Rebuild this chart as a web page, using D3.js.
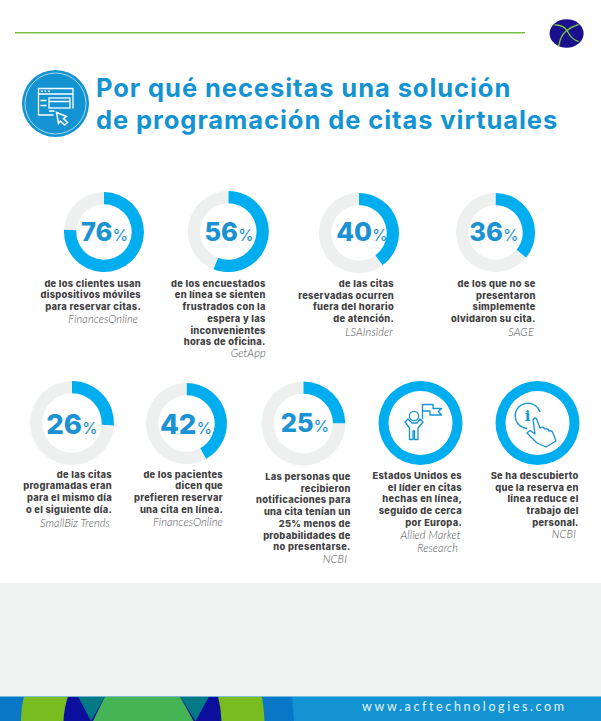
<!DOCTYPE html>
<html>
<head>
<meta charset="utf-8">
<script src="https://cdnjs.cloudflare.com/ajax/libs/d3/7.8.5/d3.min.js"></script>
<style>
html, body { margin: 0; padding: 0; background: #fff; }
svg { display: block; }
.caption { font-family: "Inter", sans-serif; font-weight: 800; font-size: 9.3px; fill: #414042; text-anchor: end; letter-spacing: 0.3px; }
.source { font-family: "Lato", sans-serif; font-style: italic; font-weight: 300; font-size: 11px; fill: #4d4e50; text-anchor: end; letter-spacing: 0.1px; }
.num { font-family: "Inter", sans-serif; font-weight: 800; fill: #1b92d1; text-anchor: middle; }
.pct { font-weight: 400; font-size: 16px; }
</style>
</head>
<body>
<div id="chart"></div>
<script>
const cards = ["a", "b", "c", "d", "e", "f", "g", "h", "i"];
const values = [76, 56, 40, 36, 26, 42, 25, 100, 100];
const valueLabels = ["76", "56", "40", "36", "26", "42", "25", null, null];
const captions = [
  ["de los clientes usan", "dispositivos móviles", "para reservar citas."],
  ["de los encuestados", "en línea se sienten", "frustrados con la", "espera y las", "inconvenientes", "horas de oficina."],
  ["de las citas", "reservadas ocurren", "fuera del horario", "de atención."],
  ["de los que no se", "presentaron", "simplemente", "olvidaron su cita."],
  ["de las citas", "programadas eran", "para el mismo día", "o el siguiente día."],
  ["de los pacientes", "dicen que", "prefieren reservar", "una cita en línea."],
  ["Las personas que", "recibieron", "notificaciones para", "una cita tenían un", "25% menos de", "probabilidades de", "no presentarse."],
  ["Estados Unidos es", "el líder en citas", "hechas en línea,", "seguido de cerca", "por Europa."],
  ["Se ha descubierto", "que la reserva en", "línea reduce el", "trabajo del", "personal."]
];
const sources = [
  ["FinancesOnline"], ["GetApp"], ["LSAInsider"], ["SAGE"], ["SmallBiz Trends"],
  ["FinancesOnline"], ["NCBI"], ["Allied Market", "Research"], ["NCBI"]
];
const titleLines = ["Por qué necesitas una solución", "de programación de citas virtuales"];
const footerUrl = "www.acftechnologies.com";

const width = 601, height = 721;

// layout, the grid is not regular in the original so ordinal scales it is
const cx = d3.scaleOrdinal().domain(cards).range([104, 228.3, 359, 495.5, 72, 186.5, 303.3, 420.5, 537.5]);
const cy = d3.scaleOrdinal().domain(cards).range([232, 231.5, 233, 232.5, 423, 423.5, 423.5, 423, 423]);
const outer = d3.scaleOrdinal().domain(cards).range([40, 40.5, 40, 39.5, 42, 40.5, 42, 42, 42]);
const labelX = d3.scaleOrdinal().domain(cards).range([104.5, 229, 362, 494, 72, 186, 305, 0, 0]);
const labelY = d3.scaleOrdinal().domain(cards).range([241, 241, 241, 241, 434, 434, 432, 0, 0]);
const labelSize = d3.scaleOrdinal().domain(cards).range([25.5, 25.5, 26, 25.5, 27.5, 27.5, 25.5, 0, 0]);
const textRight = d3.scaleOrdinal().domain(cards).range([141, 265.7, 394, 535.7, 112, 223, 350.7, 462, 578.7]);
const textTop = d3.scaleOrdinal().domain(cards).range([286.7, 286.7, 287, 287, 477.7, 477.7, 480, 479, 479]);
const sourceRight = d3.scaleOrdinal().domain(cards).range([138, 265.7, 393, 534, 110, 222.7, 347, 460.7, 576]);
const sourceTop = d3.scaleOrdinal().domain(cards).range([322.7, 356.7, 335.7, 335.7, 526.7, 525.7, 563, 539, 537.7]);
const lineH = 11.7;

const blue = "#1493d2", ringBlue = "#00aeef", track = "#eef0f0";

const svg = d3.select("#chart").append("svg").attr("width", width).attr("height", height);

svg.append("rect").attr("width", width).attr("height", height).attr("fill", "#fff");
svg.append("rect").attr("y", 583).attr("width", width).attr("height", 113).attr("fill", "#f1f2f2");

// header
svg.append("line").attr("x1", 15).attr("x2", 525).attr("y1", 32.8).attr("y2", 32.8).attr("stroke", "#7ac143").attr("stroke-width", 1.5);
const logo = svg.append("g").attr("transform", "translate(566.6,33.5)");
logo.append("ellipse").attr("rx", 17).attr("ry", 14.3).attr("fill", "#1a0f8c");
logo.append("path").attr("d", "M-12,-8.5 Q-3,-9 1,-2 Q5,6 12,8").attr("fill", "none").attr("stroke", "#7ac143").attr("stroke-width", 1.4);
logo.append("path").attr("d", "M-8,13 Q-6,2 -1,-2 Q5,-7 12,-9").attr("fill", "none").attr("stroke", "#7ac143").attr("stroke-width", 1.4);

const icon = svg.append("g").attr("transform", "translate(55.5,103.5)");
icon.append("circle").attr("r", 33.5).attr("fill", blue);
icon.append("circle").attr("r", 30.5).attr("fill", "none").attr("stroke", "#cfe9f6").attr("stroke-width", 0.8);
const ic = icon.append("g").attr("fill", "none").attr("stroke", "#fff").attr("stroke-width", 1.3);
ic.append("path").attr("d", "M-2,11.5 H-17 V-15 H17.5 V5");
ic.append("path").attr("d", "M-17,-9.5 H17.5");
ic.append("rect").attr("x", -6.5).attr("y", -5.5).attr("width", 21).attr("height", 10);
ic.append("path").attr("d", "M-6.5,-2 H14.5 M-15,-3 H-9 M-15,2 H-9 M-6.5,7.5 H-1");
ic.append("path").attr("d", "M1,9 L11,13 L8,15 L12,19 L9,21.5 L5,17.5 L3,20Z").attr("stroke-width", 1.5).attr("fill", blue);
icon.selectAll(".dot").data([-13.5, -10, -6.5]).enter().append("circle").attr("cx", d => d).attr("cy", -12.3).attr("r", 0.9).attr("fill", "#fff");

svg.selectAll(".title").data(titleLines).enter().append("text")
  .attr("class", "title").attr("x", 96).attr("y", (d, i) => 96.5 + i * 32)
  .attr("font-family", "Inter, sans-serif").attr("font-weight", 700).attr("font-size", 25.5)
  .attr("letter-spacing", 0.93).attr("fill", blue).text(d => d);

// donuts
const pie = d3.pie().sort(null);
const arc = d3.arc();

const card = svg.selectAll(".card").data(cards).enter().append("g").attr("class", "card");

card.each(function (id, i) {
  const g = d3.select(this);
  const R = outer(id);
  const ring = g.append("g").attr("transform", "translate(" + cx(id) + "," + cy(id) + ")");
  const thick = values[i] === 100 ? 10 : 12.3;
  ring.selectAll("path").data(pie([values[i], 100 - values[i]])).enter().append("path")
    .attr("d", d => arc({ innerRadius: R - thick, outerRadius: R, startAngle: d.startAngle, endAngle: d.endAngle }))
    .attr("fill", (d, k) => k === 0 ? ringBlue : track);

  if (valueLabels[i]) {
    const t = g.append("text").attr("class", "num").attr("x", labelX(id)).attr("y", labelY(id)).attr("font-size", labelSize(id));
    t.append("tspan").text(valueLabels[i]);
    t.append("tspan").attr("class", "pct").text("%");
  }

  g.selectAll(".caption").data(captions[i]).enter().append("text").attr("class", "caption")
    .attr("x", textRight(id)).attr("y", (d, k) => textTop(id) + k * lineH).text(d => d);
  g.selectAll(".source").data(sources[i]).enter().append("text").attr("class", "source")
    .attr("x", (d, k) => sourceRight(id) - k * 2.7).attr("y", (d, k) => sourceTop(id) + k * 12.5).text(d => d);
});

// flag man icon
const man = svg.append("g").attr("fill", "none").attr("stroke", blue).attr("stroke-width", 1.3).attr("stroke-linejoin", "round");
man.append("circle").attr("cx", 414).attr("cy", 416).attr("r", 4.6);
man.append("path").attr("d", "M405,422 L408,419 L412,423 H417 L420,419 L423,422 L418,428 V439.5 H414.5 V431 H413 V439.5 H409.5 V428 Z");
man.append("path").attr("d", "M422.5,419 V404.5 H433 V408.5 H441.5 L438.5,411.5 L441.5,415 H430 V411 H423");

// info hand icon
const hand = svg.append("g").attr("fill", "none").attr("stroke", blue).attr("stroke-width", 1.3).attr("stroke-linejoin", "round");
hand.append("path").attr("d", "M527,428.5 A12.7,12.7 0 1 1 540,412");
hand.append("path").attr("d", "M537,443 L527,433 L530,430.5 L535,434 L533,420 Q535,416 537,420 L540,428 Q543,426 545,429 Q548,428 549,431 Q552,430 553,433 L556,441 L546,447 Z").attr("fill", "#fff");
svg.append("text").attr("x", 527.5).attr("y", 421).attr("text-anchor", "middle").attr("font-family", "DejaVu Serif, serif").attr("font-weight", 700).attr("font-size", 15).attr("fill", blue).text("i");

// footer band
const foot = svg.append("g");
foot.append("rect").attr("y", 696).attr("width", width).attr("height", 25).attr("fill", blue);
foot.append("path").attr("d", "M0,696.5 H292 L294,721 H0Z").attr("fill", "#0a76c6");
foot.append("path").attr("d", "M24,696.5 H262 Q264,708 264.5,721 H21 Q21,708 24,696.5Z").attr("fill", "#78bc20");
foot.append("path").attr("d", "M68,696.5 H218 Q221,708 221.5,721 H63.5 Q64,708 68,696.5Z").attr("fill", "#0b0f9b");
foot.append("path").attr("d", "M105,696.5 H180 L193.5,721 H93Z").attr("fill", "#45b455");
foot.append("path").attr("d", "M78,696.5 H105 L91,721Z M180,696.5 H209 L195.5,721Z").attr("fill", "#007a85");
foot.append("rect").attr("y", 696).attr("width", width).attr("height", 0.8).attr("fill", "#8cc9e8");
foot.append("text").attr("x", 362).attr("y", 711).attr("font-family", "Lato, sans-serif").attr("font-size", 12.5)
  .attr("letter-spacing", 2.62).attr("fill", "#e6f4fb").text(footerUrl);
</script>
</body>
</html>
